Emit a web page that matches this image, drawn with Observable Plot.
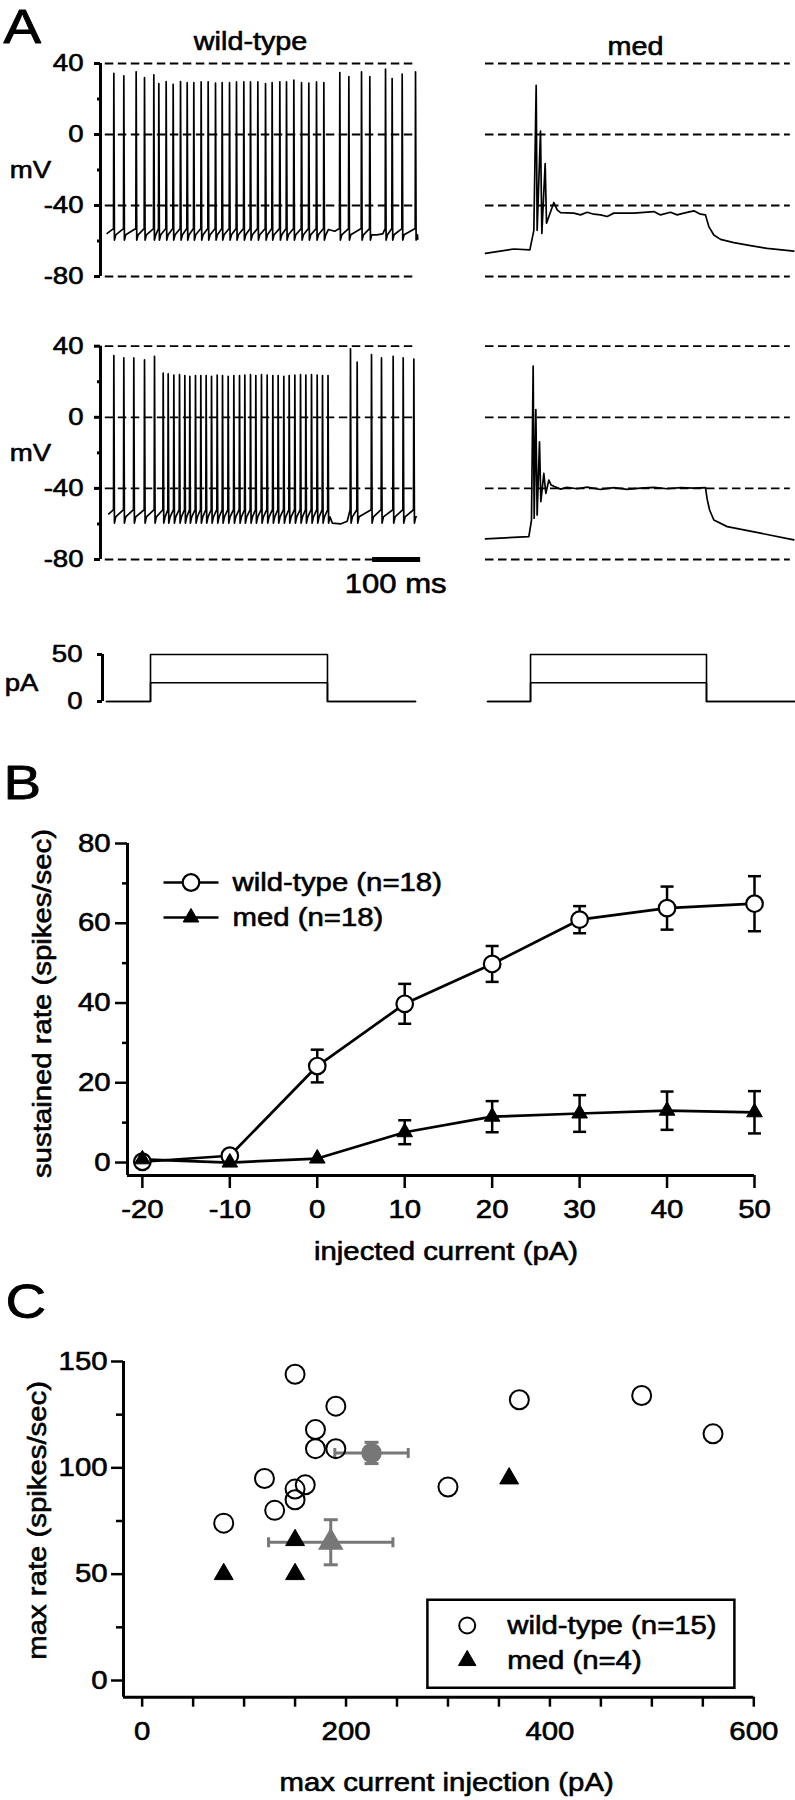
<!DOCTYPE html>
<html><head><meta charset="utf-8">
<script src="https://cdn.jsdelivr.net/npm/d3@7"></script>
<script src="https://cdn.jsdelivr.net/npm/@observablehq/plot@0.6"></script>
<style>
body{margin:0;background:#fff;}
#fig{position:relative;width:795px;height:1800px;background:#fff;overflow:hidden;}
</style></head><body><div id="fig"></div>
<script>
// ================= DATA =================
// ---- Panel A: membrane potential (time in ms, voltage in mV) ----
const mVTicks = [40, 0, -40, -80];
const mVMinorTicks = [20, -20, -60];
const mVDomain = [-80, 40];
const panelTitles = ["wild-type", "med"];

// wild-type, upper trace: spike times and peak voltages
const wtTopSpikeT = [27.8, 48.6, 74.3, 91.7, 111.1, 121.5, 136.8, 151.4, 166.7, 180.6, 194.4, 209.7, 224.3, 239.6, 253.5, 268.8, 283.3, 298.6, 312.5, 327.8, 343.8, 357.6, 373.6, 387.5, 402.8, 418.8, 434.0, 450.0, 465.3, 498.6, 517.4, 543.8, 561.1, 593.8, 607.6, 628.5, 656.3];
const wtTopSpikeV = [34.5, 33, 35.3, 32, 33.6, 28.7, 29.8, 28.3, 29.8, 29.2, 29.2, 29.6, 29.6, 28.9, 29.2, 29.2, 29.6, 29.6, 29.6, 29.6, 28.7, 29.2, 29.6, 29.6, 30.6, 29.2, 28.9, 29.6, 29.2, 34.9, 32.6, 35.3, 32.6, 36.8, 31.5, 34, 35.3];
const wtTopLevels = [-53, -59.5, -56.5];          // threshold, AHP trough, AHP recovery
const wtTopStart = [13.9, -55.7];
const wtTopEnd = [661, -59];
const wtTopExtra = [[475, -53.5], [488, -54.5], [575, -56.5], [588, -56]];

// wild-type, lower trace
const wtBotSpikeT = [27.8, 48.6, 69.4, 91.7, 112.5, 130.6, 141.0, 152.8, 164.6, 175.7, 186.1, 197.9, 209.0, 220.1, 231.3, 243.1, 254.2, 266.0, 277.8, 289.6, 300.7, 312.5, 323.6, 335.4, 347.2, 359.0, 370.1, 381.9, 393.1, 404.9, 416.7, 427.8, 439.6, 451.4, 462.5, 474.0, 520.8, 534.7, 564.6, 585.4, 609.7, 630.6, 652.8];
const wtBotSpikeV = [34.7, 33.4, 33.4, 32.3, 34.3, 24.8, 24.4, 23.8, 24.0, 23.5, 23.1, 23.5, 23.5, 23.5, 23.1, 23.8, 23.5, 23.1, 23.5, 23.5, 23.8, 24.0, 23.5, 24.0, 23.8, 23.5, 23.5, 23.1, 23.5, 23.8, 24.0, 23.8, 24.0, 23.8, 23.5, 23.5, 38.5, 31, 35.3, 33.4, 34.3, 33.4, 32.8];
const wtBotLevels = [-52, -59.5, -56];
const wtBotStart = [17.4, -54.4];
const wtBotEnd = [658, -56];
const wtBotExtra = [[483, -59.5], [500, -60], [514, -58.5]];

// med, upper trace (time, mV)
const medTopT = [0, 59, 92.4, 100.7, 105.6, 107.6, 114.6, 117.4, 124.3, 127.1, 142.4, 149.3, 156.3, 184, 198, 211.8, 225.7, 239.6, 253.5, 267.4, 309, 350.7, 364.6, 385.4, 399.3, 413.2, 434, 447.9, 458.3, 465.3, 475.7, 489.6, 517.4, 552.1, 586.8, 642.4];
const medTopV = [-67, -64.5, -65, -54, 27.7, -54, 1.9, -55.7, -16.4, -50, -38.3, -42.5, -44, -44.3, -45.3, -43.8, -44.9, -45.3, -46.2, -44.3, -44.3, -43.4, -45.3, -43.8, -45.3, -44.3, -43, -44.9, -45.3, -51.9, -56.6, -59.1, -60.9, -62.6, -64.2, -65.7];
// med, lower trace
const medBotT = [0, 90.3, 95.8, 99.3, 101.4, 104.9, 107.6, 112.5, 115.3, 121.5, 125.7, 132, 136.8, 142.4, 156.3, 170, 191, 211.8, 239.6, 267.4, 295.1, 322.9, 350.7, 378.5, 406.3, 434, 458.3, 461.8, 466.7, 475.7, 503.5, 572.9, 642.4];
const medBotV = [-68.4, -67.1, -57.8, 28.8, -56.8, 4.3, -55, -13.8, -47.5, -31.6, -42.8, -35.3, -38.1, -38.8, -40.4, -39.4, -40.2, -39.3, -40.6, -39.6, -40.6, -39.8, -39.4, -40.2, -39.6, -39.8, -39.6, -46, -52, -57.8, -61.5, -65.2, -69];

const scaleBarMs = 100;
const scaleBarStart = 567;
const scaleBarLabel = "100 ms";

// ---- Panel A: injected current steps (pA) ----
const currentAmps = [20, 50];
const pATicks = [0, 50];
const stepTimesL = [12.5, 104.2, 472.9, 656.3];   // start, step on, step off, end (ms)
const stepTimesR = [4.2, 93.8, 460.4, 645.8];

// ---- Panel B ----
const injCurrent = [-20, -10, 0, 10, 20, 30, 40, 50];
const wtSustained = [0.2, 1.7, 24.2, 39.8, 49.8, 60.9, 63.8, 64.9];
const wtSustainedSem = [0, 0, 4.1, 5.0, 4.5, 3.4, 5.4, 6.9];
const medSustained = [0.8, 0, 1.0, 7.6, 11.5, 12.3, 13.0, 12.6];
const medSustainedSem = [0, 0, 0, 3.0, 3.9, 4.6, 4.8, 5.3];
const bYTicks = [0, 20, 40, 60, 80];
const bYMinor = [10, 30, 50, 70];
const bLegend = ["wild-type (n=18)", "med (n=18)"];

// ---- Panel C ----
const wtMaxI = [150, 190, 170, 170, 190, 120, 150, 160, 150, 130, 80, 370, 490, 560, 300];
const wtMaxRate = [144, 129, 118, 109, 109, 95, 90, 92, 85, 80, 74, 132, 134, 116, 91];
const medMaxI = [80, 150, 150, 360];
const medMaxRate = [50, 50, 66, 95];
const meanGroup = ["wild-type", "med"];
const meanI = [225, 185];
const meanISem = [36, 61];
const meanRate = [107, 65];
const meanRateSem = [5, 10.6];
const cXTicks = [0, 200, 400, 600];
const cXMinor = [50, 100, 150, 250, 300, 350, 450, 500, 550];
const cYTicks = [0, 50, 100, 150];
const cYMinor = [25, 75, 125];
const cLegend = ["wild-type (n=15)", "med (n=4)"];

// ================= HELPERS =================
const fig = document.getElementById("fig");
const FONT = '"Liberation Sans", Arial, Helvetica, sans-serif';
const PX_PER_MS = 0.48;
const GRAY = "#777";
const TSW = 0.6;        // slight text stroke to match the heavy print
const STRETCH = 1.15;   // the printed face is wider than Arial
const tickFmt = d => String(d);
const noFmt = () => "";

function place(svg, left, top, width) {
  const d = document.createElement("div");
  d.style.position = "absolute";
  d.style.left = left + "px";
  d.style.top = top + "px";
  d.style.width = width + "px";
  d.appendChild(svg);
  fig.appendChild(d);
}
const baseStyle = size => ({fontFamily: FONT, fontSize: size + "px", color: "#000", background: "transparent", overflow: "visible"});
const label = (s, o) => Plot.text([s], {textAnchor: "middle", lineAnchor: "middle", stroke: "black", strokeWidth: TSW, fill: "black", ...o});

function buildTrace(start, spikeT, spikeV, levels, extras, end) {
  const [thr, trough, mid] = levels;
  const pts = [start];
  spikeT.forEach((t, i) => {
    pts.push([t - 0.7, thr], [t, spikeV[i]], [t + 1.2, trough], [t + 4, mid]);
  });
  extras.forEach(p => pts.push(p));
  pts.push(end);
  pts.sort((a, b) => a[0] - b[0]);
  return pts.map(([t, v]) => ({t, v}));
}
const zipTrace = (T, V) => T.map((t, i) => ({t, v: V[i]}));
function buildSteps(times) {
  const [t0, on, off, t1] = times;
  return currentAmps.flatMap(a => [[t0, 0], [on, 0], [on, a], [off, a], [off, 0], [t1, 0]].map(([t, i]) => ({t, i, amp: a})));
}

// symbols
const hCap = {draw(ctx) { ctx.moveTo(-6.5, 0); ctx.lineTo(6.5, 0); }};
const hCapWide = {draw(ctx) { ctx.moveTo(-7, 0); ctx.lineTo(7, 0); }};
const vCap = {draw(ctx) { ctx.moveTo(0, -5); ctx.lineTo(0, 5); }};
const legendLine = {draw(ctx) { ctx.moveTo(-27.5, 0); ctx.lineTo(27.5, 0); }};
const legendBox = {draw(ctx) { ctx.rect(-153.5, -44, 307, 88); }};

const axisText = {textStroke: "black", textStrokeWidth: TSW, label: null};
const DASH = "8.5,4.5";
const TRACE_W = 1.7;

// ================= PANEL A: voltage traces =================
const LX = [0, 667];           // left panel time domain (ms); axis at x=100px
const RX = [0, 645.8];         // right panel time domain; starts at x=485px

function leftTrace({trace, height, mT, mB, extra}) {
  const width = 440, mL = 100;
  const mR = width - mL - (LX[1] - LX[0]) * PX_PER_MS;
  return Plot.plot({
    width, height, marginLeft: mL, marginRight: mR, marginTop: mT, marginBottom: mB,
    style: baseStyle(24),
    x: {domain: LX, axis: null},
    y: {domain: mVDomain, label: null},
    marks: [
      Plot.ruleY(mVTicks, {x1: 10, x2: 656, strokeWidth: 1.8, strokeDasharray: DASH}),
      Plot.ruleX([LX[0]], {strokeWidth: 3}),
      Plot.axisY(mVTicks, {tickSize: 6, tickPadding: 11, tickFormat: tickFmt, strokeWidth: 3, fontSize: 24, ...axisText}),
      Plot.axisY(mVMinorTicks, {tickSize: 3, tickFormat: noFmt, strokeWidth: 3, label: null}),
      Plot.line(trace, {x: "t", y: "v", strokeWidth: TRACE_W}),
      label("mV", {frameAnchor: "left", dx: -70, fontSize: 24}),
      ...extra
    ]
  });
}
function rightTrace({trace, height, mT, mB, extra}) {
  const width = 355, mL = 45;
  const mR = width - mL - (RX[1] - RX[0]) * PX_PER_MS;
  return Plot.plot({
    width, height, marginLeft: mL, marginRight: mR, marginTop: mT, marginBottom: mB,
    style: baseStyle(24),
    x: {domain: RX, axis: null},
    y: {domain: mVDomain, axis: null},
    marks: [
      Plot.ruleY(mVTicks, {x1: 0, x2: 635, strokeWidth: 1.8, strokeDasharray: DASH}),
      Plot.line(trace, {x: "t", y: "v", strokeWidth: TRACE_W}),
      ...extra
    ]
  });
}

const wtTop = buildTrace(wtTopStart, wtTopSpikeT, wtTopSpikeV, wtTopLevels, wtTopExtra, wtTopEnd);
const wtBot = buildTrace(wtBotStart, wtBotSpikeT, wtBotSpikeV, wtBotLevels, wtBotExtra, wtBotEnd);

place(leftTrace({trace: wtTop, height: 300, mT: 63, mB: 24, extra: [
  label(panelTitles[0], {frameAnchor: "top", dx: -10, dy: -22, fontSize: 25}),
  label("A", {frameAnchor: "top-left", textAnchor: "start", dx: -97, dy: -36, fontSize: 49, strokeWidth: 0.8})
]}), 0, 0, 440);
place(rightTrace({trace: zipTrace(medTopT, medTopV), height: 300, mT: 63, mB: 24, extra: [
  label(panelTitles[1], {frameAnchor: "top", dx: -5, dy: -17, fontSize: 25})
]}), 440, 0, 355);

place(leftTrace({trace: wtBot, height: 300, mT: 45.7, mB: 41, extra: [
  Plot.ruleY([mVDomain[0]], {x1: scaleBarStart, x2: scaleBarStart + scaleBarMs, strokeWidth: 5}),
  Plot.text([scaleBarLabel], {x: scaleBarStart + scaleBarMs / 2, y: mVDomain[0], dy: 25, dx: -1, fontSize: 27, stroke: "black", strokeWidth: TSW, fill: "black"})
]}), 0, 300, 440);
place(rightTrace({trace: zipTrace(medBotT, medBotV), height: 300, mT: 45.7, mB: 41, extra: []}), 440, 300, 355);

// ================= PANEL A: current steps =================
{
  const xDom = [4.2, LX[1]];
  const width = 440, mL = 102;
  const mR = width - mL - (xDom[1] - xDom[0]) * PX_PER_MS;
  place(Plot.plot({
    width, height: 130, marginLeft: mL, marginRight: mR, marginTop: 54, marginBottom: 29,
    style: baseStyle(24),
    x: {domain: xDom, axis: null},
    y: {domain: [0, 50], label: null},
    marks: [
      Plot.ruleX([xDom[0]], {strokeWidth: 3}),
      Plot.axisY(pATicks, {tickSize: 5, tickPadding: 15, tickFormat: tickFmt, strokeWidth: 3, fontSize: 24, ...axisText}),
      Plot.line(buildSteps(stepTimesL), {x: "t", y: "i", z: "amp", strokeWidth: 1.6}),
      label("pA", {frameAnchor: "left", dx: -81, dy: 5, fontSize: 24})
    ]
  }), 0, 600, 440);
  place(Plot.plot({
    width: 355, height: 130, marginLeft: 45, marginRight: 355 - 45 - RX[1] * PX_PER_MS, marginTop: 54, marginBottom: 29,
    style: baseStyle(24),
    x: {domain: RX, axis: null},
    y: {domain: [0, 50], axis: null},
    marks: [
      Plot.line(buildSteps(stepTimesR), {x: "t", y: "i", z: "amp", strokeWidth: 1.6})
    ]
  }), 440, 600, 355);
}

// ================= PANEL B =================
{
  const rows = injCurrent.map((c, i) => ({c, wt: wtSustained[i], wtSem: wtSustainedSem[i], med: medSustained[i], medSem: medSustainedSem[i]}));
  const wtErr = rows.filter(d => d.wtSem > 0);
  const medErr = rows.filter(d => d.medSem > 0);
  const xDom = [-21.7, 50], yDom = [-3.25, 80];
  const FS = 25.5;
  place(Plot.plot({
    width: 795, height: 540, marginLeft: 127, marginRight: 41, marginTop: 113, marginBottom: 95,
    style: baseStyle(FS),
    x: {domain: xDom, label: null},
    y: {domain: yDom, label: null},
    marks: [
      Plot.ruleX([xDom[0]], {strokeWidth: 3}),
      Plot.ruleY([yDom[0]], {strokeWidth: 3}),
      Plot.axisY(bYTicks, {tickSize: 12, tickPadding: 5, tickFormat: tickFmt, strokeWidth: 2.5, fontSize: FS, ...axisText}),
      Plot.axisY(bYMinor, {tickSize: 5, tickFormat: noFmt, strokeWidth: 2.5, label: null}),
      Plot.axisX(injCurrent, {tickSize: 13, tickPadding: 11, tickFormat: tickFmt, strokeWidth: 2.5, fontSize: FS, ...axisText}),
      Plot.line(rows, {x: "c", y: "wt", strokeWidth: 2.7}),
      Plot.line(rows, {x: "c", y: "med", strokeWidth: 2.7}),
      Plot.ruleX(wtErr, {x: "c", y1: d => d.wt - d.wtSem, y2: d => d.wt + d.wtSem, strokeWidth: 2.5}),
      Plot.dot(wtErr, {x: "c", y: d => d.wt - d.wtSem, symbol: hCap, stroke: "black", fill: "none", strokeWidth: 2.5}),
      Plot.dot(wtErr, {x: "c", y: d => d.wt + d.wtSem, symbol: hCap, stroke: "black", fill: "none", strokeWidth: 2.5}),
      Plot.ruleX(medErr, {x: "c", y1: d => d.med - d.medSem, y2: d => d.med + d.medSem, strokeWidth: 2.5}),
      Plot.dot(medErr, {x: "c", y: d => d.med - d.medSem, symbol: hCap, stroke: "black", fill: "none", strokeWidth: 2.5}),
      Plot.dot(medErr, {x: "c", y: d => d.med + d.medSem, symbol: hCap, stroke: "black", fill: "none", strokeWidth: 2.5}),
      Plot.dot(rows, {x: "c", y: "wt", r: 8.3, fill: "white", stroke: "black", strokeWidth: 2.2}),
      Plot.dot(rows, {x: "c", y: "med", symbol: "triangle", r: 5.8, fill: "black", stroke: "black", strokeWidth: 1}),
      // axis titles and panel letter
      label("sustained rate (spikes/sec)", {frameAnchor: "left", rotate: -90, dx: -85, dy: -6, fontSize: FS}),
      label("injected current (pA)", {frameAnchor: "bottom", dx: 5, dy: 76, fontSize: FS}),
      label("B", {frameAnchor: "top-left", textAnchor: "start", dx: -124, dy: -60, fontSize: 49, strokeWidth: 0.8}),
      // legend
      Plot.dot([0], {frameAnchor: "top-left", dx: 63.5, dy: 39, symbol: legendLine, stroke: "black", fill: "none", strokeWidth: 2.7}),
      Plot.dot([0], {frameAnchor: "top-left", dx: 63.5, dy: 39, r: 8.3, fill: "white", stroke: "black", strokeWidth: 2.2}),
      label(bLegend[0], {frameAnchor: "top-left", textAnchor: "start", dx: 105, dy: 39, fontSize: FS}),
      Plot.dot([0], {frameAnchor: "top-left", dx: 63.5, dy: 74, symbol: legendLine, stroke: "black", fill: "none", strokeWidth: 2.7}),
      Plot.dot([0], {frameAnchor: "top-left", dx: 63.5, dy: 74, symbol: "triangle", r: 5.8, fill: "black", stroke: "black", strokeWidth: 1}),
      label(bLegend[1], {frameAnchor: "top-left", textAnchor: "start", dx: 105, dy: 74, fontSize: FS})
    ]
  }), 0, 730, 795);
}

// ================= PANEL C =================
{
  const wt = wtMaxI.map((i, k) => ({i, r: wtMaxRate[k]}));
  const med = medMaxI.map((i, k) => ({i, r: medMaxRate[k]}));
  const means = meanGroup.map((g, k) => ({g, i: meanI[k], iSem: meanISem[k], r: meanRate[k], rSem: meanRateSem[k]}));
  const xDom = [-18.3, 600], yDom = [-7.85, 150];
  const FS = 25.5;
  place(Plot.plot({
    width: 795, height: 530, marginLeft: 123, marginRight: 41.7, marginTop: 91, marginBottom: 103.3,
    style: baseStyle(FS),
    x: {domain: xDom, label: null},
    y: {domain: yDom, label: null},
    marks: [
      Plot.ruleX([xDom[0]], {strokeWidth: 3}),
      Plot.ruleY([yDom[0]], {strokeWidth: 3}),
      Plot.axisY(cYTicks, {tickSize: 12, tickPadding: 4, tickFormat: tickFmt, strokeWidth: 2.5, fontSize: FS, ...axisText}),
      Plot.axisY(cYMinor, {tickSize: 7, tickFormat: noFmt, strokeWidth: 2.5, label: null}),
      Plot.axisX(cXTicks, {tickSize: 10, tickPadding: 15, tickFormat: tickFmt, strokeWidth: 2.5, fontSize: FS, ...axisText}),
      Plot.axisX(cXMinor, {tickSize: 10, tickFormat: noFmt, strokeWidth: 2.5, label: null}),
      // group means with SEM
      Plot.ruleY(means, {y: "r", x1: d => d.i - d.iSem, x2: d => d.i + d.iSem, stroke: GRAY, strokeWidth: 3}),
      Plot.dot(means, {x: d => d.i - d.iSem, y: "r", symbol: vCap, stroke: GRAY, fill: "none", strokeWidth: 3}),
      Plot.dot(means, {x: d => d.i + d.iSem, y: "r", symbol: vCap, stroke: GRAY, fill: "none", strokeWidth: 3}),
      Plot.ruleX(means, {x: "i", y1: d => d.r - d.rSem, y2: d => d.r + d.rSem, stroke: GRAY, strokeWidth: 3}),
      Plot.dot(means, {x: "i", y: d => d.r - d.rSem, symbol: hCapWide, stroke: GRAY, fill: "none", strokeWidth: 3}),
      Plot.dot(means, {x: "i", y: d => d.r + d.rSem, symbol: hCapWide, stroke: GRAY, fill: "none", strokeWidth: 3}),
      Plot.dot(means.filter(d => d.g === "wild-type"), {x: "i", y: "r", r: 9.5, fill: GRAY, stroke: GRAY}),
      Plot.dot(means.filter(d => d.g === "med"), {x: "i", y: "r", symbol: "triangle", r: 8.5, fill: GRAY, stroke: GRAY}),
      // individual cells
      Plot.dot(wt, {x: "i", y: "r", r: 9.5, fill: "none", stroke: "black", strokeWidth: 2}),
      Plot.dot(med, {x: "i", y: "r", symbol: "triangle", r: 7, fill: "black", stroke: "black", strokeWidth: 1}),
      // titles and letter
      label("max rate (spikes/sec)", {frameAnchor: "left", rotate: -90, dx: -86, dy: -9, fontSize: FS}),
      label("max current injection (pA)", {frameAnchor: "bottom", dx: 8, dy: 86, fontSize: FS}),
      label("C", {frameAnchor: "top-left", textAnchor: "start", dx: -118, dy: -59, fontSize: 49, strokeWidth: 0.8}),
      // legend
      Plot.dot([0], {frameAnchor: "top-left", dx: 457.4, dy: 282.3, symbol: legendBox, fill: "white", stroke: "black", strokeWidth: 2.5}),
      Plot.dot([0], {frameAnchor: "top-left", dx: 343.7, dy: 264, r: 8, fill: "none", stroke: "black", strokeWidth: 2}),
      label(cLegend[0], {frameAnchor: "top-left", textAnchor: "start", dx: 383.7, dy: 264, fontSize: FS}),
      Plot.dot([0], {frameAnchor: "top-left", dx: 343.7, dy: 299, symbol: "triangle", r: 6.5, fill: "black", stroke: "black", strokeWidth: 1}),
      label(cLegend[1], {frameAnchor: "top-left", textAnchor: "start", dx: 383.7, dy: 299, fontSize: FS})
    ]
  }), 0, 1270, 795);
}

// widen every label slightly (the printed typeface is broader than Arial)
document.querySelectorAll("#fig svg text").forEach(t => {
  const len = t.getComputedTextLength();
  if (len > 0) {
    t.setAttribute("textLength", (len * STRETCH).toFixed(2));
    t.setAttribute("lengthAdjust", "spacingAndGlyphs");
  }
});
</script></body></html>
